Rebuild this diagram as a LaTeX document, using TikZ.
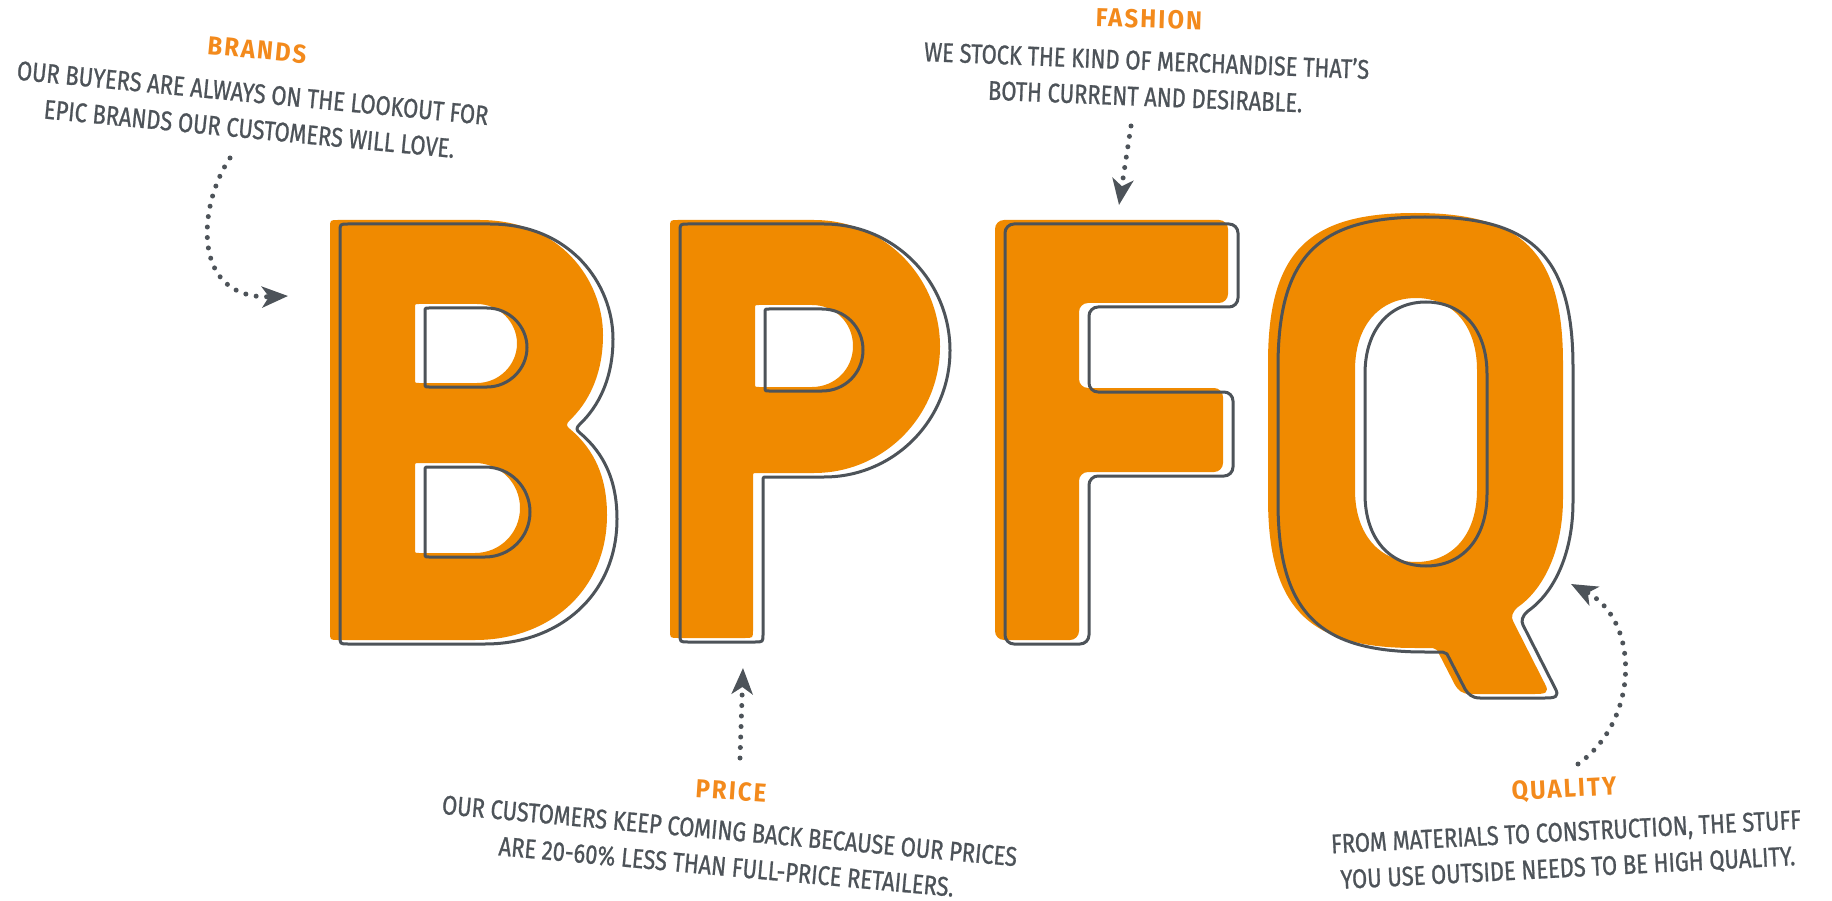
\documentclass[tikz,border=0pt]{standalone}
\usepackage{fontspec}
\setmainfont{Fira Sans}
\newfontfamily\handfont[FakeStretch=0.81,FakeBold=0.8]{Fira Sans}
\newfontfamily\headfont[FakeStretch=0.92,LetterSpace=8]{Fira Sans}
\usetikzlibrary{arrows.meta}
\definecolor{bpfqorange}{HTML}{F08A00}
\definecolor{headorange}{HTML}{F38A1C}
\definecolor{inkgray}{HTML}{4D5359}

\def\lettB{(338,220) -- (480,220)
 .. controls (560,220) and (603,280) .. (603,335)
 .. controls (603,375) and (588,403) .. (570,420)
 .. controls (566,424) and (566,426) .. (570,429)
 .. controls (595,450) and (607,478) .. (607,515)
 .. controls (607,590) and (550,640) .. (475,640)
 -- (338,640) .. controls (330,640) .. (330,632)
 -- (330,228) .. controls (330,220) .. (338,220) -- cycle
 (419,304) -- (477,304) .. controls (499,304) and (517,322) .. (517,343.5)
 .. controls (517,365) and (499,383) .. (477,383) -- (419,383)
 .. controls (415,383) .. (415,379) -- (415,308) .. controls (415,304) .. (419,304) -- cycle
 (419,463) -- (475,463) .. controls (500,463) and (520,483) .. (520,508)
 .. controls (520,533) and (500,553) .. (475,553) -- (419,553)
 .. controls (415,553) .. (415,549) -- (415,467) .. controls (415,463) .. (419,463) -- cycle}

\def\lettP{(678,220) -- (814,220)
 .. controls (884,220) and (940,277) .. (940,346.5)
 .. controls (940,416) and (884,473) .. (814,473)
 -- (757,473) .. controls (753,473) .. (753,477)
 -- (753,630) .. controls (753,638) .. (745,638)
 -- (678,638) .. controls (670,638) .. (670,630)
 -- (670,228) .. controls (670,220) .. (678,220) -- cycle
 (759,305) -- (812,305) .. controls (835,305) and (853,323) .. (853,346)
 .. controls (853,369) and (835,387) .. (812,387) -- (759,387)
 .. controls (755,387) .. (755,383) -- (755,309) .. controls (755,305) .. (759,305) -- cycle}

\def\lettF{(995,220) -- (1228,220) -- (1228,303) -- (1079,303) -- (1079,388)
 -- (1223,388) -- (1223,472) -- (1079,472) -- (1079,640) -- (995,640) -- cycle}

\def\lettQ{(1268,363) .. controls (1268,250) and (1310,213) .. (1415,213)
 .. controls (1520,213) and (1563,250) .. (1563,363)
 -- (1563,498)
 .. controls (1563,548) and (1545,588) .. (1518,607)
 .. controls (1512,612) and (1511,617) .. (1513,621)
 -- (1545,684)
 .. controls (1550,693) and (1545,694) .. (1535,694)
 -- (1470,694)
 .. controls (1462,694) and (1458,690) .. (1455,685)
 -- (1437,650)
 .. controls (1435,648) and (1432,648) .. (1428,648)
 -- (1415,648)
 .. controls (1310,648) and (1268,610) .. (1268,498)
 -- cycle
 (1355,370) .. controls (1355,325) and (1380,298) .. (1416,298)
 .. controls (1452,298) and (1477,325) .. (1477,370)
 -- (1477,490) .. controls (1477,535) and (1452,562) .. (1416,562)
 .. controls (1380,562) and (1355,535) .. (1355,490) -- cycle}

\tikzset{
  body/.style={font=\handfont\fontsize{27}{36}\selectfont, text=inkgray, align=center, inner sep=0pt},
  head/.style={font=\headfont\bfseries\fontsize{26}{28}\selectfont, text=headorange, inner sep=0pt},
  lettfill/.style={fill=bpfqorange, even odd rule},
  lettline/.style={draw=inkgray, line width=3pt, line join=round},
  dotarrow/.style={draw=inkgray, line width=5pt, line cap=round,
    dash pattern=on 0pt off 10.5pt, -{Stealth[length=26pt,width=21pt,inset=7pt]}},
}

\begin{document}
\begin{tikzpicture}[x=1pt,y=-1pt]
\useasboundingbox[fill=white] (0,0) rectangle (1832,901);

% letters: orange fill and shifted outline
\fill[lettfill] \lettB;
\fill[lettfill] \lettP;
\fill[lettfill, rounded corners=9pt] \lettF;
\fill[lettfill] \lettQ;
\begin{scope}[shift={(10,4)}]
  \draw[lettline] \lettB;
  \draw[lettline] \lettP;
  \draw[lettline, rounded corners=9pt] \lettF;
  \draw[lettline] \lettQ;
\end{scope}

% annotations
\node[head, rotate=-5.5] (brandsH) at (257,50) {BRANDS};
\node[body, rotate=-5.5] (brandsT) at (251,111) {OUR BUYERS ARE ALWAYS ON THE LOOKOUT FOR\\EPIC BRANDS OUR CUSTOMERS WILL LOVE.};
\node[head, rotate=-1.8] (fashionH) at (1149,19) {FASHION};
\node[body, rotate=-2.3] (fashionT) at (1146,78) {WE STOCK THE KIND OF MERCHANDISE THAT’S\\BOTH CURRENT AND DESIRABLE.};
\node[head, rotate=-3.9] (priceH) at (731,791) {PRICE};
\node[body, rotate=-5.2] (priceT) at (728,849) {OUR CUSTOMERS KEEP COMING BACK BECAUSE OUR PRICES\\ARE 20-60\% LESS THAN FULL-PRICE RETAILERS.};
\node[head, rotate=2.9] (qualityH) at (1564,790) {QUALITY};
\node[body, rotate=3] (qualityT) at (1567,851) {FROM MATERIALS TO CONSTRUCTION, THE STUFF\\YOU USE OUTSIDE NEEDS TO BE HIGH QUALITY.};

% arrows
\coordinate (bA) at (230,158); \coordinate (bB) at (288,296);
\draw[dotarrow] (bA) .. controls (198,205) and (190,300) .. (bB);
\coordinate (fA) at (1131,126); \coordinate (fB) at (1119,205);
\draw[dotarrow] (fA) -- (fB);
\coordinate (pA) at (740,758); \coordinate (pB) at (743,668);
\draw[dotarrow] (pA) -- (pB);
\coordinate (qA) at (1578,764); \coordinate (qB) at (1571,584);
\draw[dotarrow] (qA) .. controls (1640,720) and (1640,620) .. (qB);
\end{tikzpicture}
\end{document}
